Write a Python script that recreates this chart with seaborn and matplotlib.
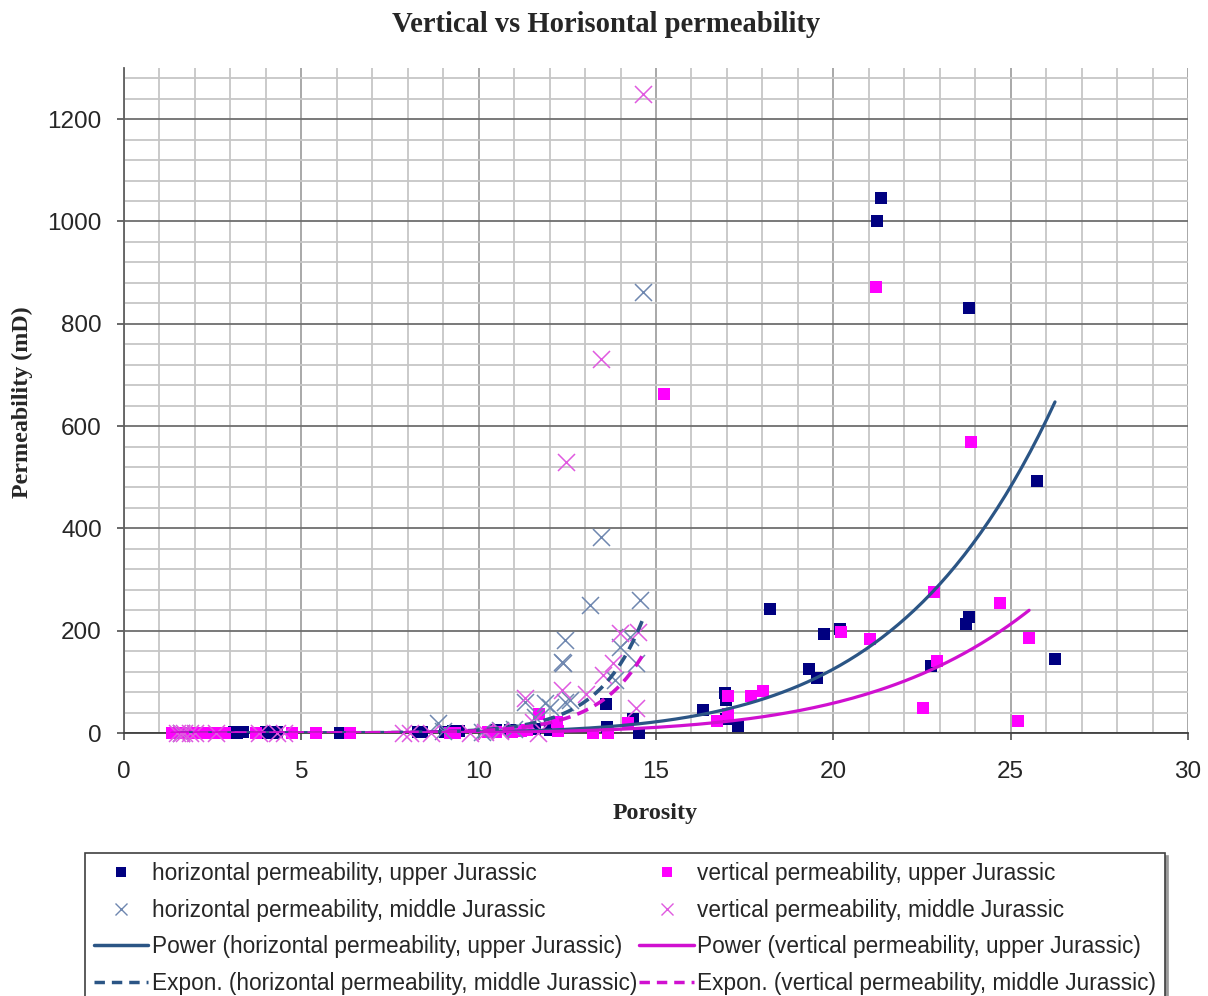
import numpy as np
import pandas as pd
import seaborn as sns
import matplotlib
matplotlib.use("Agg")
import matplotlib.pyplot as plt
from matplotlib.lines import Line2D
from matplotlib.ticker import MultipleLocator

# ---- measured porosity (%) / permeability (mD) ----
# horizontal permeability, upper Jurassic
hu_por = [3.1, 3.2, 3.36, 3.9, 4.0, 4.2, 4.31, 6.1, 6.2, 8.3, 8.4, 9.05, 9.28,
          9.45, 10.5, 10.88, 11.0, 11.3, 11.6, 12.0, 13.6, 13.63, 14.34, 14.52,
          16.33, 16.94, 16.97, 16.97, 17.32, 18.21, 19.32, 19.53, 19.73, 20.2,
          21.23, 21.34, 22.74, 23.73, 23.83, 23.82, 25.74, 26.25]
hu_perm = [1, 0.5, 1, 0.5, 1, 0.5, 1, 0.3, 0.5, 1, 2, 2, 3,
           4, 6, 5, 4, 6, 8, 5, 57, 12, 27, 0.5,
           45, 78, 65, 27, 14, 242, 126, 107, 193, 203,
           1000, 1046, 131, 214, 226, 831, 492, 145]

# vertical permeability, upper Jurassic
vu_por = [1.35, 1.5, 1.7, 1.9, 2.1, 2.3, 2.5, 2.7, 2.85, 3.71, 4.74, 5.4,
          6.37, 9.19, 9.32, 10.27, 10.5, 10.93, 11.2, 11.35, 11.71, 12.2,
          12.24, 13.23, 13.66, 14.22, 15.22, 16.73, 17.04, 17.04, 17.69,
          18.02, 20.23, 21.03, 21.2, 22.52, 22.84, 22.93, 23.88, 24.71,
          25.21, 25.52]
vu_perm = [0.2, 0.2, 0.2, 0.2, 0.2, 0.2, 0.2, 0.2, 0.3, 0.3, 0.3, 0.3,
           0.3, 0.5, 0.5, 1, 2, 2, 3, 6, 38, 22,
           3, 0.5, 0.5, 19, 662, 23, 38, 72, 72,
           83, 198, 183, 872, 48, 275, 141, 569, 255,
           23, 186]

# horizontal permeability, middle Jurassic
hm_por = [1.6, 8.86, 9.0, 10.1, 10.6, 11.0, 11.3, 11.59, 11.87, 12.0, 12.39,
          12.43, 12.34, 12.43, 12.57, 13.14, 13.45, 13.84, 13.98, 14.27,
          14.45, 14.55, 14.63]
hm_perm = [0.5, 19, 3, 2, 5, 8, 61, 32, 58, 51, 136,
           61, 139, 182, 64, 250, 383, 104, 169, 188,
           136, 260, 862]

# vertical permeability, middle Jurassic
vm_por = [1.5, 1.6, 1.7, 1.85, 2.0, 2.6, 3.8, 4.3, 4.5, 7.88, 8.06, 8.67,
          9.75, 10.17, 10.6, 11.3, 11.54, 11.68, 12.34, 12.46, 13.04,
          13.45, 13.51, 13.79, 13.98, 14.45, 14.5, 14.63]
vm_perm = [0.2, 0.2, 0.2, 0.2, 0.2, 0.2, 0.3, 0.3, 0.3, 0.5, 0.5, 0.5,
           0.5, 1, 3, 68, 22, 0.5, 84, 530, 77,
           731, 113, 136, 195, 48, 198, 1249]

# trendline coefficients: power y = a*x^b, exponential y = a*exp(k*x)
pow_h = (1.68e-6, 6.05)
pow_v = (1.66e-6, 5.80)
exp_h = (2.13e-3, 0.79)
exp_v = (1.96e-3, 0.77)

labels = [
    "horizontal permeability, upper Jurassic",
    "horizontal permeability, middle Jurassic",
    "Power (horizontal permeability, upper Jurassic)",
    "Expon. (horizontal permeability, middle Jurassic)",
    "vertical permeability, upper Jurassic",
    "vertical permeability, middle Jurassic",
    "Power (vertical permeability, upper Jurassic)",
    "Expon. (vertical permeability, middle Jurassic)",
]

NAVY = "#000080"
MAGENTA = "#FF00FF"
XBLUE = "#6F87B0"
XPINK = "#E05AE0"
TREND_BLUE = "#2B5585"
TREND_PINK = "#D010D0"

sns.set_theme(style="white")
plt.rcParams["font.family"] = ["Liberation Sans", "DejaVu Sans"]

fig = plt.figure(figsize=(12.08, 9.96), dpi=100)
ax = fig.add_axes([124 / 1208, 1 - 733 / 996, 1064 / 1208, 665 / 996])

ax.set_xlim(0, 30)
ax.set_ylim(0, 1300)
ax.xaxis.set_major_locator(MultipleLocator(5))
ax.xaxis.set_minor_locator(MultipleLocator(1))
ax.yaxis.set_major_locator(MultipleLocator(200))
ax.yaxis.set_minor_locator(MultipleLocator(40))
ax.set_yticks(np.arange(0, 1201, 200))
ax.grid(which="minor", color="#c6c6c6", lw=1.3, zorder=0)
ax.grid(which="major", axis="x", color="#9a9a9a", lw=1.2, zorder=0)
ax.grid(which="major", axis="y", color="#6e6e6e", lw=1.3, zorder=0)
ax.set_axisbelow(True)
for s in ("top", "right"):
    ax.spines[s].set_visible(False)
ax.spines["left"].set_color("#606060")
ax.spines["bottom"].set_color("#404040")
ax.spines["left"].set_linewidth(1.3)
ax.spines["bottom"].set_linewidth(1.3)
ax.tick_params(which="major", direction="out", length=5, width=1.1,
               color="#404040", labelsize=17.5)
ax.tick_params(axis="x", pad=15)
ax.tick_params(axis="y", pad=11)
ax.tick_params(which="minor", length=0)
ax.tick_params(axis="x", bottom=True)
ax.tick_params(axis="y", left=True)

sns.scatterplot(x=hu_por, y=hu_perm, marker="s", s=78, color=NAVY,
                linewidth=0, ax=ax, clip_on=False, zorder=3)
sns.scatterplot(x=vu_por, y=vu_perm, marker="s", s=78, color=MAGENTA,
                linewidth=0, ax=ax, clip_on=False, zorder=3)
sns.scatterplot(x=hm_por, y=hm_perm, marker="x", s=150, color=XBLUE,
                linewidth=1.1, ax=ax, clip_on=False, zorder=4)
sns.scatterplot(x=vm_por, y=vm_perm, marker="x", s=150, color=XPINK,
                linewidth=1.1, ax=ax, clip_on=False, zorder=4)


def power_curve(xs, coef):
    grid = np.linspace(min(xs), max(xs), 200)
    return grid, coef[0] * grid ** coef[1]


def expon_curve(xs, coef):
    grid = np.linspace(min(xs), max(xs), 200)
    return grid, coef[0] * np.exp(coef[1] * grid)


gx, gy = power_curve(hu_por, pow_h)
sns.lineplot(x=gx, y=gy, color=TREND_BLUE, lw=2.3, ax=ax, zorder=5, sort=False)
gx, gy = power_curve(vu_por, pow_v)
sns.lineplot(x=gx, y=gy, color=TREND_PINK, lw=2.3, ax=ax, zorder=5, sort=False)
gx, gy = expon_curve(hm_por, exp_h)
sns.lineplot(x=gx, y=gy, color=TREND_BLUE, lw=2.6, ax=ax, zorder=5,
             sort=False, dashes=False).lines[-1].set_dashes((3.3, 2.0))
gx, gy = expon_curve(vm_por, exp_v)
sns.lineplot(x=gx, y=gy, color=TREND_PINK, lw=2.6, ax=ax, zorder=5,
             sort=False, dashes=False).lines[-1].set_dashes((3.3, 2.0))

ax.set_xlabel("")
ax.set_ylabel("")

serif = ["Liberation Serif", "DejaVu Serif"]
fig.text(606 / 1208, 1 - 24 / 996, "Vertical vs Horisontal permeability",
         ha="center", va="center", fontsize=20.6, fontweight="bold",
         family=serif)
fig.text(655 / 1208, 1 - 813 / 996, "Porosity", ha="center", va="center",
         fontsize=17.3, fontweight="bold", family=serif)
fig.text(22 / 1208, 1 - 402 / 996, "Permeability (mD)", ha="center",
         va="center", rotation=90, fontsize=17.3, fontweight="bold",
         family=serif)

handles = [
    Line2D([], [], ls="none", marker="s", markersize=7, color=NAVY, mew=0),
    Line2D([], [], ls="none", marker="x", markersize=9, color=XBLUE, mew=1.0),
    Line2D([], [], color=TREND_BLUE, lw=2.5),
    Line2D([], [], color=TREND_BLUE, lw=2.5, dashes=(3, 2)),
    Line2D([], [], ls="none", marker="s", markersize=7, color=MAGENTA, mew=0),
    Line2D([], [], ls="none", marker="x", markersize=9, color=XPINK, mew=1.0),
    Line2D([], [], color=TREND_PINK, lw=2.5),
    Line2D([], [], color=TREND_PINK, lw=2.5, dashes=(3, 2)),
]
leg = fig.legend(handles, labels, loc="upper left",
                 bbox_to_anchor=(85 / 1208, 1 - 853 / 996),
                 ncol=2, fontsize=16.3, frameon=True,
                 fancybox=False, shadow={"color": "#9a9a9a", "alpha": 1},
                 edgecolor="#404040", handlelength=2.4, handletextpad=0.15,
                 columnspacing=0.1, labelspacing=0.6, borderpad=0.4,
                 borderaxespad=0)
leg.get_frame().set_linewidth(1.2)

fig.savefig("out.png", dpi=100)
